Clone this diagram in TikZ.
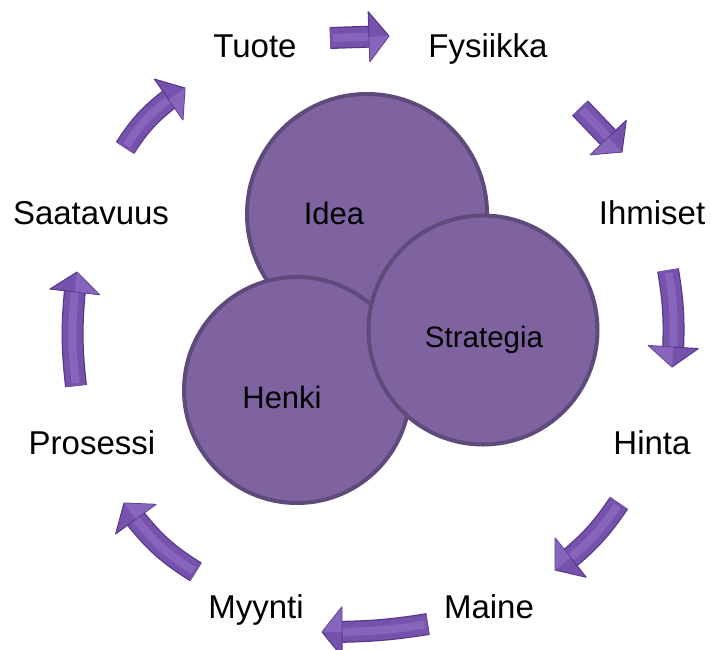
\documentclass[tikz,border=0pt]{standalone}
\usepackage{fontspec}
\setmainfont{Liberation Sans}
\usetikzlibrary{calc}
\definecolor{cfill}{HTML}{7F63A1}
\definecolor{cedge}{HTML}{5E4A7B}
\definecolor{amain}{HTML}{7652AD}
\definecolor{adark}{HTML}{54398A}
\definecolor{alight}{HTML}{A88BD8}
\tikzset{
  circ/.style={circle, fill=cfill, draw=cedge, line width=4pt, minimum size=#1, inner sep=0pt},
  outlbl/.style={font=\fontsize{33}{40}\selectfont, anchor=base, inner sep=0pt, text=black},
  inlbl/.style={font=\fontsize{#1}{38}\selectfont, anchor=base, inner sep=0pt, text=black},
  shaftdark/.style={draw=adark, line width=22pt},
  shaftmain/.style={draw=amain, line width=19.5pt},
  shaftlight/.style={draw=alight, line width=8pt, opacity=0.35},
  headstyle/.style={fill=amain, draw=adark, line width=1pt, line join=round}
}
\newcommand{\blkarrow}[3]{%
  \coordinate (hb) at ($(#2)!20pt!-#3:(#1)$);
  \coordinate (hl) at ($(hb)!25pt!90:(#2)$);
  \coordinate (hr) at ($(hb)!25pt!-90:(#2)$);
  \coordinate (he) at ($(hb)!4pt!(#2)$);
  \draw[shaftdark] (#1) to[bend left=#3] (he);
  \draw[shaftmain] (#1) to[bend left=#3] (he);
  \draw[shaftlight, shorten <=3pt] (#1) to[bend left=#3] (hb);
  \filldraw[headstyle] (hl) -- (#2) -- (hr) -- cycle;
  \fill[alight, opacity=0.35] (hb) -- (#2) -- (hr) -- cycle;
}
\begin{document}
\begin{tikzpicture}[x=1pt, y=-1pt]
\useasboundingbox (0,0) rectangle (711,649);

% circles
\node[circ=240pt] (cidea) at (367,214) {};
\node[circ=226pt] (chenki) at (297,390) {};
\node[circ=229pt] (cstrat) at (483,330) {};

\node[inlbl=31] (tidea) at (334,224) {Idea};
\node[inlbl=29.5] (tstrat) at (484,347) {Strategia};
\node[inlbl=31] (thenki) at (282,408) {Henki};

% outer labels
\node[outlbl] (tuote) at (255,57) {Tuote};
\node[outlbl] (fysiikka) at (488,57) {Fysiikka};
\node[outlbl] (ihmiset) at (652,224) {Ihmiset};
\node[outlbl] (hinta) at (652,454) {Hinta};
\node[outlbl] (maine) at (489,618) {Maine};
\node[outlbl] (myynti) at (256,618) {Myynti};
\node[outlbl] (prosessi) at (92,454) {Prosessi};
\node[outlbl] (saatavuus) at (91,224) {Saatavuus};

% arrow end points
\coordinate (a1s) at (330,38);  \coordinate (a1e) at (389,36);
\coordinate (a2s) at (580,108); \coordinate (a2e) at (622,152);
\coordinate (a3s) at (668,270); \coordinate (a3e) at (672,367);
\coordinate (a4s) at (619,503); \coordinate (a4e) at (555,570);
\coordinate (a5s) at (428,624); \coordinate (a5e) at (322,632);
\coordinate (a6s) at (196,572); \coordinate (a6e) at (124,503);
\coordinate (a7s) at (76,386);  \coordinate (a7e) at (77,272);
\coordinate (a8s) at (125,148); \coordinate (a8e) at (185,88);

\blkarrow{a1s}{a1e}{0}
\blkarrow{a2s}{a2e}{0}
\blkarrow{a3s}{a3e}{6}
\blkarrow{a4s}{a4e}{8}
\blkarrow{a5s}{a5e}{4}
\blkarrow{a6s}{a6e}{10}
\blkarrow{a7s}{a7e}{6}
\blkarrow{a8s}{a8e}{10}
\end{tikzpicture}
\end{document}
